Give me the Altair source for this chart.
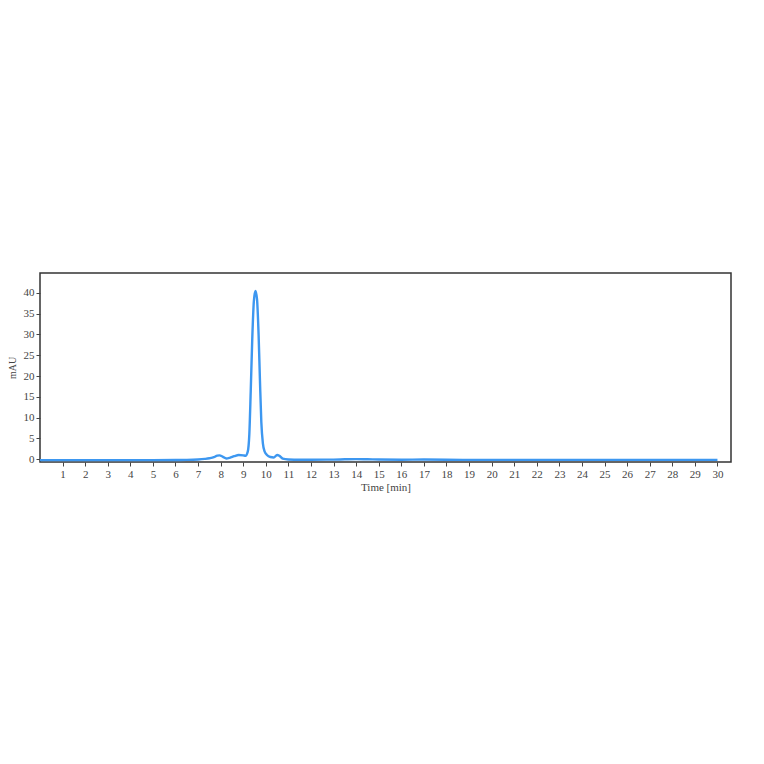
import altair as alt
import pandas as pd

# Chromatogram trace
time_min = [0.0, 1.0, 2.0, 3.0, 4.0, 5.0, 6.0, 6.5, 7.0, 7.3, 7.5, 7.7, 7.85, 7.95, 8.1, 8.25,
            8.4, 8.6, 8.8, 9.0, 9.1, 9.2, 9.27, 9.33, 9.4, 9.47, 9.54, 9.61, 9.68, 9.74,
            9.8, 9.87, 9.95, 10.05, 10.2, 10.35, 10.5, 10.6, 10.75, 11.0, 11.5, 12.0,
            13.0, 13.5, 14.0, 14.5, 15.0, 16.0, 17.0, 18.0, 20.0, 22.0, 24.0, 26.0, 28.0, 30.0]
mau = [-0.25, -0.25, -0.25, -0.25, -0.25, -0.25, -0.22, -0.2, -0.1, 0.05, 0.2, 0.45, 0.85, 0.9, 0.55, 0.15,
       0.3, 0.7, 1.0, 0.9, 0.8, 1.8, 6.0, 16.0, 29.0, 38.0, 40.5, 38.5, 30.0, 19.0,
       9.0, 3.8, 1.8, 1.0, 0.5, 0.4, 1.0, 0.8, 0.1, -0.1, -0.15, -0.15,
       -0.12, -0.05, 0.0, -0.05, -0.1, -0.15, -0.1, -0.15, -0.2, -0.2, -0.2, -0.2, -0.2, -0.2]

x_ticks = list(range(1, 31))
y_ticks = [0, 5, 10, 15, 20, 25, 30, 35, 40]

df = pd.DataFrame({"t": time_min, "v": mau})

font = "Liberation Serif"

chart = alt.Chart(df).mark_line(color="#3d97f0", strokeWidth=2.4, clip=True,
                                interpolate="monotone").encode(
    x=alt.X("t:Q", scale=alt.Scale(domain=[0, 30.6], nice=False, zero=False),
            axis=alt.Axis(values=x_ticks, title="Time [min]", grid=False, tickSize=4,
                          tickColor="#444", domain=False, labelFont=font, titleFont=font,
                          labelFontSize=11, titleFontSize=11, titleFontWeight="normal",
                          labelColor="#444", titleColor="#444", labelPadding=2, titlePadding=2)),
    y=alt.Y("v:Q", scale=alt.Scale(domain=[-0.7, 44.8], nice=False, zero=False),
            axis=alt.Axis(values=y_ticks, title="mAU", grid=False, tickSize=4,
                          tickColor="#444", domain=False, labelFont=font, titleFont=font,
                          labelFontSize=11, titleFontSize=10, titleFontWeight="normal",
                          labelColor="#444", titleColor="#444", labelPadding=2, titlePadding=6)),
).properties(
    width=691, height=189,
    autosize=alt.AutoSizeParams(type="none"),
    padding={"left": 32, "top": 265, "right": 20, "bottom": 270},
).configure_view(stroke="#333", strokeWidth=1.5, fill="white")

chart.save("out.html", embed_options={"renderer": "svg", "actions": False})
